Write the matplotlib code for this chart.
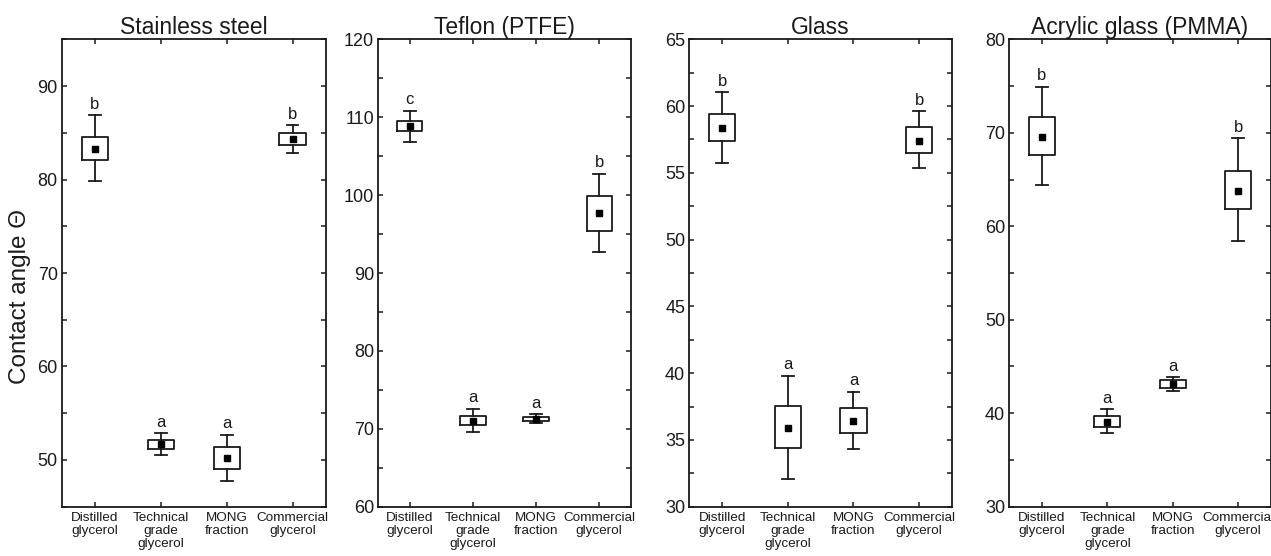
import matplotlib
matplotlib.use('Agg')
import matplotlib.pyplot as plt
from matplotlib.ticker import MultipleLocator

plt.rcParams['font.family'] = ['Liberation Sans', 'DejaVu Sans']

# categories shared by all four panels
categories = ['Distilled\nglycerol', 'Technical\ngrade\nglycerol',
              'MONG\nfraction', 'Commercial\nglycerol']

# Stainless steel
steel_mean = [83.3, 51.7, 50.2, 84.3]
steel_box_lo = [82.1, 51.2, 49.0, 83.65]
steel_box_hi = [84.6, 52.1, 51.35, 84.95]
steel_whis_lo = [79.8, 50.5, 47.7, 82.8]
steel_whis_hi = [86.85, 52.85, 52.7, 85.8]
steel_letters = ['b', 'a', 'a', 'b']

# Teflon (PTFE)
ptfe_mean = [108.85, 71.0, 71.3, 97.65]
ptfe_box_lo = [108.2, 70.45, 71.05, 95.45]
ptfe_box_hi = [109.55, 71.7, 71.55, 99.9]
ptfe_whis_lo = [106.85, 69.6, 70.8, 92.7]
ptfe_whis_hi = [110.85, 72.55, 71.85, 102.75]
ptfe_letters = ['c', 'a', 'a', 'b']

# Glass
glass_mean = [58.35, 35.9, 36.4, 57.4]
glass_box_lo = [57.4, 34.4, 35.5, 56.5]
glass_box_hi = [59.4, 37.55, 37.4, 58.45]
glass_whis_lo = [55.75, 32.1, 34.35, 55.4]
glass_whis_hi = [61.05, 39.8, 38.6, 59.6]
glass_letters = ['b', 'a', 'a', 'b']

# Acrylic glass (PMMA)
pmma_mean = [69.5, 39.05, 43.1, 63.8]
pmma_box_lo = [67.65, 38.55, 42.75, 61.8]
pmma_box_hi = [71.65, 39.7, 43.55, 65.95]
pmma_whis_lo = [64.4, 37.85, 42.4, 58.45]
pmma_whis_hi = [74.95, 40.4, 43.85, 69.4]
pmma_letters = ['b', 'a', 'a', 'b']

panels = [
    ('Stainless steel', steel_mean, steel_box_lo, steel_box_hi,
     steel_whis_lo, steel_whis_hi, steel_letters, (45, 95), 10, 5),
    ('Teflon (PTFE)', ptfe_mean, ptfe_box_lo, ptfe_box_hi,
     ptfe_whis_lo, ptfe_whis_hi, ptfe_letters, (60, 120), 10, 5),
    ('Glass', glass_mean, glass_box_lo, glass_box_hi,
     glass_whis_lo, glass_whis_hi, glass_letters, (30, 65), 5, 2.5),
    ('Acrylic glass (PMMA)', pmma_mean, pmma_box_lo, pmma_box_hi,
     pmma_whis_lo, pmma_whis_hi, pmma_letters, (30, 80), 10, 5),
]

W, H = 1271, 556
fig = plt.figure(figsize=(W / 100, H / 100), dpi=100)

# axes rectangles in pixels: (left, width)
lefts = [62, 378.3, 689.3, 1009.3]
widths = [263.5, 252.4, 262.7, 261.5]
bottom = (H - 506.7) / H
height = 467.4 / H

line_kw = dict(color='#1a1a1a', linewidth=1.3)

for (title, mean, blo, bhi, wlo, whi, letters, ylim, major, minor), l, w in zip(panels, lefts, widths):
    ax = fig.add_axes([l / W, bottom, w / W, height])
    stats = []
    for m, q1, q3, lo, hi in zip(mean, blo, bhi, wlo, whi):
        stats.append(dict(med=m, mean=m, q1=q1, q3=q3, whislo=lo, whishi=hi, fliers=[]))
    ax.bxp(stats, positions=range(4), widths=0.4, capwidths=0.18,
           showmeans=True, manage_ticks=False,
           boxprops=line_kw, whiskerprops=line_kw, capprops=line_kw,
           medianprops=dict(linewidth=0),
           meanprops=dict(marker='s', markerfacecolor='black',
                          markeredgecolor='black', markersize=4.5))
    for i, (lab, hi) in enumerate(zip(letters, whi)):
        ax.annotate(lab, (i, hi), xytext=(0, 2.5), textcoords='offset points',
                    ha='center', va='bottom', fontsize=12, color='#1a1a1a')

    ax.set_xlim(-0.5, 3.5)
    ax.set_ylim(*ylim)
    ax.set_xticks(range(4))
    ax.set_xticklabels(categories, fontsize=9.7, linespacing=1.1)
    ax.yaxis.set_major_locator(MultipleLocator(major))
    ax.yaxis.set_minor_locator(MultipleLocator(minor))
    ax.tick_params(axis='both', which='both', direction='in', top=True, right=True,
                   length=3.5, width=1.1, colors='#1a1a1a')
    ax.tick_params(axis='y', labelsize=13, pad=3)
    ax.tick_params(axis='x', pad=4)
    for s in ax.spines.values():
        s.set_linewidth(1.3)
        s.set_color('#1a1a1a')
    ax.set_title(title, fontsize=16.5, pad=4, color='#1a1a1a')

fig.text(20 / W, 1 - 297 / H, 'Contact angle Θ', rotation=90, ha='center',
         va='center', fontsize=17.5, color='#1a1a1a')

fig.savefig('out.png', dpi=100)
